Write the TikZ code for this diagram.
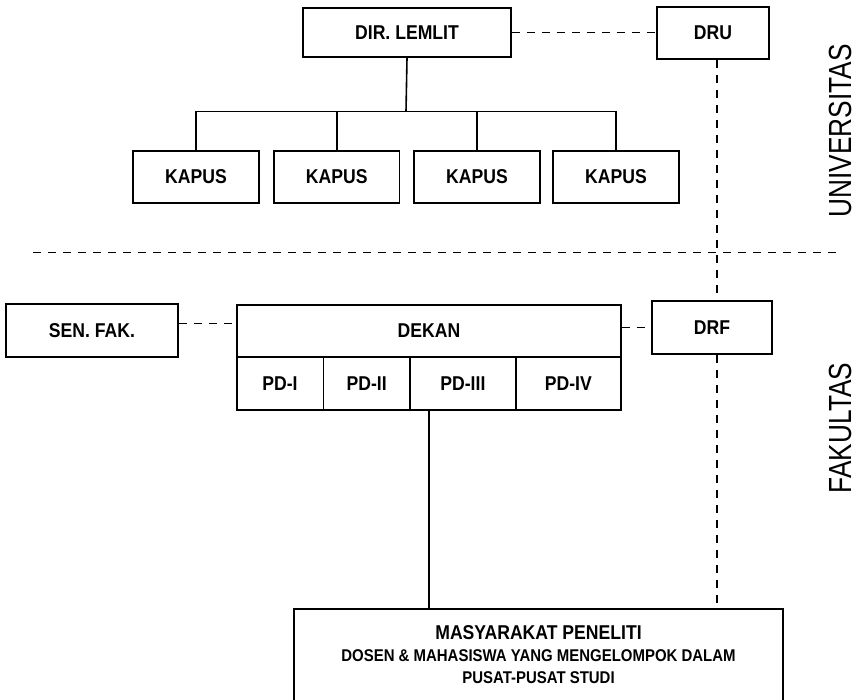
\documentclass[tikz,border=0pt]{standalone}
\usepackage{fontspec}
\newfontfamily\nb[FakeStretch=0.88]{Liberation Sans}
\newfontfamily\nreg[FakeStretch=0.82]{Liberation Sans}
\begin{document}
\begin{tikzpicture}[x=1pt,y=-1pt,
  box/.style={draw, line width=1.6pt, inner sep=0pt, font=\nb\bfseries\fontsize{20}{24}\selectfont},
  conn/.style={line width=1.6pt},
  dsh/.style={line width=1.5pt, dash pattern=on 8pt off 7pt},
  side/.style={rotate=90, inner sep=0pt, font=\nreg\fontsize{32}{36}\selectfont}]
\useasboundingbox (0,0) rectangle (859,699);
% Universitas level
\node[box, minimum width=208pt, minimum height=49pt] (dir) at (407,32.5) {DIR. LEMLIT};
\node[box, minimum width=112pt, minimum height=52pt] (dru) at (713,33) {DRU};
\node[box, minimum width=126pt, minimum height=52pt] (k1) at (196,177) {KAPUS};
\node[box, minimum width=125.5pt, minimum height=52pt] (k2) at (336.75,177) {KAPUS};
\node[box, minimum width=126pt, minimum height=52pt] (k3) at (477,177) {KAPUS};
\node[box, minimum width=126pt, minimum height=52pt] (k4) at (616,177) {KAPUS};
\coordinate (bus) at (406,111.5);
\draw[conn] (dir.south) -- (bus);
\draw[conn] (k1.north) -- (k1.north |- bus) -- (k4.north |- bus) -- (k4.north);
\draw[conn] (k2.north) -- (k2.north |- bus);
\draw[conn] (k3.north) -- (k3.north |- bus);
\draw[dsh] (dir.east) -- (dru.west |- dir.east);
% separator
\coordinate (hl) at (33,252.3);
\coordinate (hr) at (837,252.3);
\draw[dsh] (hl) -- (hr);
% Fakultas level
\node[box, minimum width=172pt, minimum height=52.5pt] (sen) at (92,330.5) {SEN.\ FAK.};
\node[box, minimum width=384pt, minimum height=52pt] (dekan) at (429,331) {DEKAN};
\node[box, minimum width=86.6pt, minimum height=53pt] (pd1) at (280,383.5) {PD-I};
\node[box, minimum width=86.7pt, minimum height=53pt] (pd2) at (366.7,383.5) {PD-II};
\node[box, minimum width=105.7pt, minimum height=53pt] (pd3) at (462.9,383.5) {PD-III};
\node[box, minimum width=105.3pt, minimum height=53pt] (pd4) at (568.4,383.5) {PD-IV};
\node[box, minimum width=120pt, minimum height=53pt] (drf) at (712,327.5) {DRF};
\node[draw, line width=1.6pt, inner sep=0pt, minimum width=489pt, minimum height=112pt] (mas) at (538.5,665) {};
\node[anchor=north, inner sep=0pt, align=center, font=\nb\bfseries\fontsize{17}{22}\selectfont] (mastext) at (538.5,625)
  {{\fontsize{20}{22}\selectfont MASYARAKAT PENELITI}\\DOSEN \& MAHASISWA YANG MENGELOMPOK DALAM\\PUSAT-PUSAT STUDI};
\coordinate (senlink) at (0,323.3);
\draw[dsh] (sen.east |- senlink) -- (dekan.west |- senlink);
\draw[dsh] (dekan.east |- drf.west) -- (drf.west);
\coordinate (vlink) at (717,0);
\draw[dsh] (dru.south -| vlink) -- (drf.north -| vlink);
\draw[dsh] (drf.south -| vlink) -- (mas.north -| vlink);
\coordinate (pdlink) at (429,0);
\draw[conn] (pd3.south -| pdlink) -- (mas.north -| pdlink);
% side labels
\node[side] (univ) at (840,131) {UNIVERSITAS};
\node[side] (fak) at (840,428) {FAKULTAS};
\end{tikzpicture}
\end{document}
